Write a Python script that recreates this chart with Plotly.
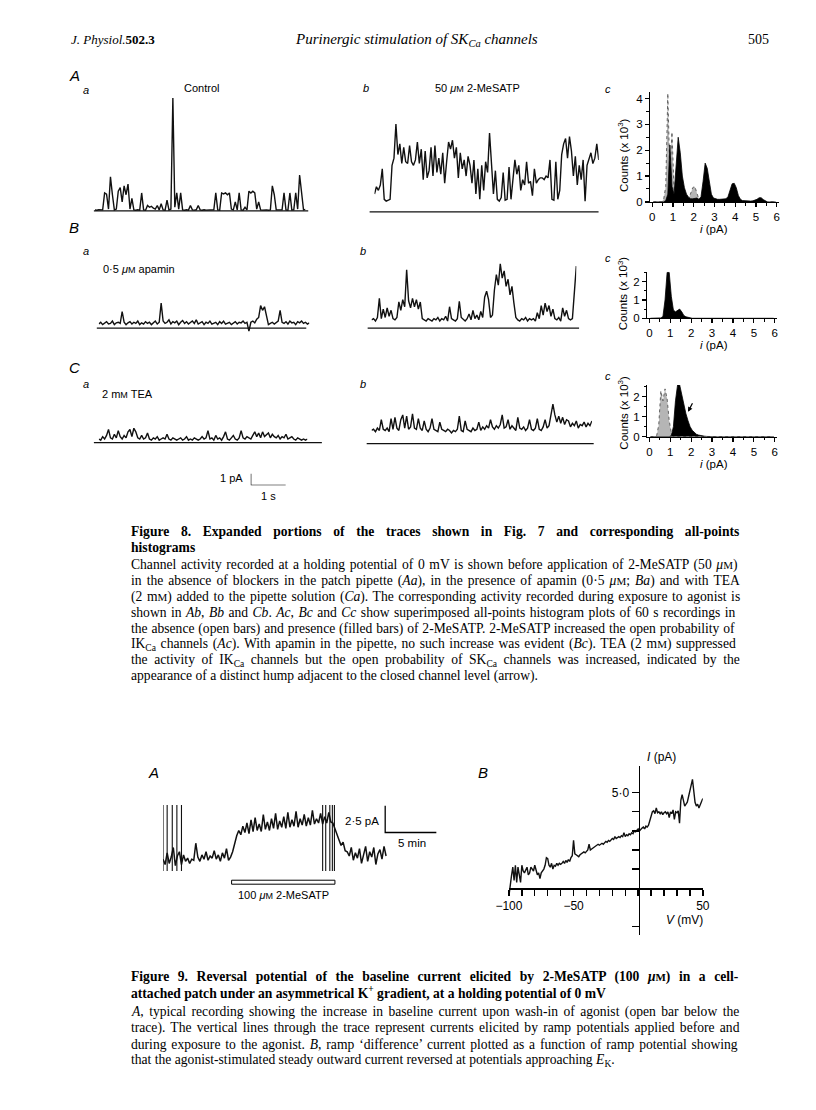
import re
import numpy as np
import plotly.graph_objects as go

W, H = 816, 1110
SANS = "Liberation Sans, Arial, Helvetica, sans-serif"
SERIF = "Liberation Serif, Times New Roman, serif"

# ======================= DATA =======================
# Fig. 8 single-channel traces: current (pA) above the zero-current line,
# sampled every DT_S seconds.
DT_S = 0.0556
aa_current = [0.08, 0.05, 0.09, 0.06, 0.08, 1.5, 1.4, 0.15, 2.85, 1.35,
              0.08, 0.15, 1.65, 1.95, 0.75, 2.1, 1.35, 2.25, 0.15, 1.05,
              0.08, 0.05, 0.09, 0.06, 1.5, 0.08, 0.05, 0.45, 0.3, 0.38,
              0.22, 0.15, 0.45, 0.08, 0.6, 0.08, 0.06, 0.9, 0.08, 0.15,
              9.45, 0.3, 1.5, 0.15, 1.5, 0.08, 0.05, 0.09, 0.06, 0.45,
              0.08, 0.06, 0.09, 0.45, 0.08, 0.05, 0.09, 0.06, 0.08, 0.05,
              0.08, 0.09, 1.5, 0.08, 0.06, 1.5, 1.42, 1.5, 1.35, 1.5,
              0.15, 0.08, 0.75, 0.08, 1.5, 0.08, 0.06, 0.3, 0.08, 1.65,
              1.5, 1.65, 1.5, 0.15, 0.75, 0.08, 0.06, 0.09, 0.08, 0.05,
              0.08, 2.1, 1.35, 0.08, 0.06, 0.09, 0.08, 1.5, 0.08, 0.06,
              1.5, 0.08, 0.09, 1.5, 0.15, 3.0, 1.5, 0.08, 0.12]
ab_current = [1.5, 2.1, 1.8, 2.25, 3.6, 1.05, 0.9, 0.98, 1.05, 3.9,
              4.5, 7.35, 4.8, 5.7, 4.05, 5.4, 4.2, 4.05, 5.55, 4.2,
              3.9, 4.35, 5.85, 4.05, 5.25, 2.7, 5.1, 2.85, 3.45, 5.4,
              3.0, 5.55, 3.3, 4.5, 3.15, 4.95, 2.4, 4.2, 5.85, 5.25,
              6.0, 4.5, 5.4, 2.85, 4.95, 3.6, 4.35, 3.0, 4.65, 3.9,
              2.4, 4.35, 1.5, 3.6, 1.05, 3.9, 1.8, 4.2, 3.3, 6.6,
              3.75, 1.5, 3.45, 1.05, 0.9, 1.2, 3.3, 0.98, 1.05, 3.75,
              1.05, 2.7, 4.35, 3.15, 3.9, 1.8, 2.7, 2.25, 4.2, 2.4,
              2.55, 1.35, 3.6, 2.4, 2.7, 2.85, 2.85, 2.7, 3.0, 2.85,
              4.35, 1.05, 0.98, 4.2, 1.05, 1.8, 4.8, 5.7, 6.15, 4.5,
              6.3, 5.1, 3.0, 4.65, 2.25, 3.9, 2.7, 4.35, 0.9, 3.9,
              4.35, 4.95, 4.05, 4.5, 5.7, 4.35]
ba_current = [0.35, 0.5, 0.3, 0.45, 0.55, 0.35, 0.4, 0.6, 0.3, 0.45,
              0.5, 0.4, 1.4, 0.5, 0.3, 0.45, 0.55, 0.35, 0.5, 0.4,
              0.6, 0.3, 0.45, 0.35, 0.55, 0.4, 0.5, 0.3, 0.45, 0.6,
              0.35, 0.5, 2.1, 0.6, 0.4, 0.5, 0.7, 0.35, 0.55, 0.45,
              0.6, 0.3, 0.5, 0.65, 0.4, 0.55, 0.35, 0.5, 0.6, 0.4,
              0.7, 0.35, 0.45, 0.55, 0.3, 0.5, 0.4, 0.6, 0.35, 0.45,
              0.5, 0.3, 0.55, 0.4, 0.6, 0.35, 0.45, 0.5, 0.3, 0.4,
              0.55, 0.35, 0.5, 0.45, 0.6, 0.4, 0.5, -0.25, 0.5, 0.6,
              0.45, 0.75, 0.9, 1.9, 1.5, 1.8, 1.0, 0.3, 0.4, 0.5,
              0.35, 0.45, 0.6, 1.5, 0.5, 0.4, 0.55, 0.35, 0.6, 0.45,
              0.5, 0.3, 0.55, 0.45, 0.6, 0.4, 0.5, 0.35, 0.45]
bb_current = [0.7, 0.8, 0.6, 0.9, 2.5, 0.8, 1.6, 0.9, 1.7, 1.0,
              1.5, 0.8, 0.7, 0.9, 2.2, 1.5, 2.4, 1.8, 4.9, 2.3,
              1.7, 2.5, 1.8, 2.4, 1.6, 2.2, 0.8, 0.7, 0.6, 0.8,
              0.7, 0.6, 0.8, 0.7, 0.9, 0.6, 0.8, 0.7, 1.0, 0.6,
              1.8, 0.8, 0.7, 0.6, 0.8, 2.25, 0.9, 0.7, 0.6, 0.8,
              1.2, 0.7, 1.5, 0.8, 1.1, 0.7, 1.4, 0.9, 2.6, 3.1,
              2.4, 0.9, 1.1, 3.2, 4.5, 3.6, 5.4, 4.2, 4.8, 3.5,
              4.1, 2.8, 3.5, 2.1, 0.9, 0.7, 0.6, 0.8, 0.7, 0.9,
              0.6, 0.8, 0.7, 0.8, 0.6, 1.3, 0.8, 1.9, 1.1, 2.1,
              1.4, 1.9, 1.0, 1.6, 0.8, 0.7, 0.9, 0.6, 1.7, 1.0,
              1.5, 0.8, 0.7, 0.8, 2.8, 5.2]
ca_current = [0.3, 0.2, 0.5, 0.3, 0.6, 1.1, 0.4, 0.3, 0.7, 0.4,
              1.0, 0.5, 0.3, 0.6, 0.4, 0.9, 1.1, 0.5, 1.2, 0.9,
              0.4, 0.3, 0.6, 0.3, 0.4, 0.8, 0.3, 0.2, 0.4, 0.3,
              0.5, 0.2, 0.3, 0.4, 0.3, 0.7, 0.3, 0.2, 0.4, 0.3,
              0.2, 0.3, 0.4, 0.2, 0.3, 0.5, 0.2, 0.3, 0.2, 0.4,
              0.3, 0.2, 0.3, 0.5, 0.3, 0.4, 1.0, 0.3, 0.4, 0.2,
              0.6, 0.3, 0.4, 0.2, 0.5, 0.9, 0.3, 0.2, 0.4, 0.6,
              0.3, 0.2, 0.4, 1.0, 0.4, 0.3, 0.5, 0.4, 0.3, 0.6,
              0.9, 0.5, 0.8, 0.4, 0.9, 0.5, 0.7, 0.8, 0.4, 0.7,
              0.5, 0.4, 0.6, 0.3, 0.5, 0.4, 0.7, 0.3, 0.4, 0.5,
              0.3, 0.2, 0.4, 0.3, 0.2, 0.3, 0.2, 0.3]
cb_current = [1.1, 1.2, 1.0, 1.3, 1.1, 2.0, 1.2, 1.1, 1.3, 1.0,
              2.1, 1.2, 2.2, 1.3, 1.1, 2.0, 2.4, 1.3, 2.3, 1.2,
              1.4, 2.5, 1.3, 1.2, 2.1, 1.3, 1.1, 1.9, 1.2, 1.0,
              1.3, 2.1, 1.2, 1.1, 1.0, 1.8, 1.2, 1.1, 1.0, 1.2,
              1.1, 0.9, 1.1, 1.0, 1.2, 2.3, 1.1, 1.0, 1.9, 1.2,
              1.1, 1.0, 1.3, 1.1, 1.2, 1.8, 1.1, 1.4, 1.2, 1.5,
              1.3, 2.0, 1.4, 1.2, 1.5, 1.3, 1.6, 2.4, 1.3, 1.4,
              2.0, 1.2, 1.5, 1.3, 1.1, 2.2, 1.3, 1.2, 1.4, 1.1,
              1.3, 2.0, 1.2, 1.1, 1.3, 2.1, 1.2, 1.1, 1.4, 2.0,
              1.3, 1.5, 2.6, 3.3, 2.4, 1.8, 2.3, 1.7, 2.2, 1.6,
              2.0, 1.9, 1.4, 1.7, 1.5, 1.9, 1.3, 1.6, 1.5, 1.8,
              1.4, 1.7, 1.5, 1.9]

# Fig. 8 all-points histograms: bin centres (pA) and counts (x 10^3)
hist_bins = [round(0.05 + 0.1 * k, 2) for k in range(60)]
ac_control = [0, 0, 0, 0, 0, 0.1, 0.6, 4.2, 1.0, 2.7,
              0.5, 0.1, 0.05, 0.03, 0.03, 0.04, 0.06, 0.1, 0.3, 0.55,
              0.6, 0.35, 0.1, 0.03, 0, 0, 0, 0, 0, 0,
              0, 0, 0, 0, 0, 0, 0, 0, 0, 0,
              0, 0, 0, 0, 0, 0, 0, 0, 0, 0,
              0, 0, 0, 0, 0, 0, 0, 0, 0, 0]
ac_agonist = [0, 0, 0, 0, 0, 0, 0.05, 0.3, 2.2, 0.6,
              0.3, 1.6, 2.5, 1.9, 1.0, 0.55, 0.3, 0.18, 0.12, 0.12,
              0.15, 0.15, 0.1, 0.2, 0.8, 1.5, 1.3, 0.7, 0.3, 0.15,
              0.12, 0.1, 0.1, 0.1, 0.1, 0.12, 0.2, 0.45, 0.7, 0.72,
              0.55, 0.25, 0.1, 0.05, 0.04, 0.03, 0.03, 0.03, 0.04, 0.06,
              0.1, 0.16, 0.16, 0.09, 0.03, 0, 0, 0, 0, 0]
bc_agonist = [0, 0, 0, 0, 0, 0.02, 0.1, 1.0, 2.5, 2.5,
              1.2, 0.45, 0.35, 0.45, 0.5, 0.35, 0.15, 0.08, 0.04, 0.02,
              0, 0, 0, 0, 0, 0, 0, 0, 0, 0,
              0, 0, 0, 0, 0, 0, 0, 0, 0, 0,
              0, 0, 0, 0, 0, 0, 0, 0, 0, 0,
              0, 0, 0, 0, 0, 0, 0, 0, 0, 0]
cc_control = [0, 0, 0, 0.05, 0.6, 2.3, 1.8, 2.4, 1.9, 0.8,
              0.2, 0.02, 0, 0, 0, 0, 0, 0, 0, 0,
              0, 0, 0, 0, 0, 0, 0, 0, 0, 0,
              0, 0, 0, 0, 0, 0, 0, 0, 0, 0,
              0, 0, 0, 0, 0, 0, 0, 0, 0, 0,
              0, 0, 0, 0, 0, 0, 0, 0, 0, 0]
cc_agonist = [0, 0, 0, 0, 0, 0, 0, 0, 0, 0,
              0.05, 0.5, 1.8, 2.6, 2.6, 2.1, 1.6, 1.15, 0.8, 0.5,
              0.32, 0.2, 0.12, 0.08, 0.05, 0.03, 0.02, 0.01, 0, 0,
              0, 0, 0, 0, 0, 0, 0, 0, 0, 0,
              0, 0, 0, 0, 0, 0, 0, 0, 0, 0,
              0, 0, 0, 0, 0, 0, 0, 0, 0, 0]
hist_xticks = [0, 1, 2, 3, 4, 5, 6]

# Fig. 9A: baseline current (pA) sampled every DT_MIN minutes
DT_MIN = 0.2
fig9_current = [0.2, -0.3, 0.8, -0.2, 0.4, 1.3, -0.4, 0.5, 0.9, -0.3,
                0.6, 0.0, 0.3, -0.2, 0.2, 0.1, 1.7, 0.4, 0.0, 0.6,
                0.2, 0.9, 0.1, 0.5, 0.3, 1.0, 0.2, 0.6, 0.0, 0.8,
                0.3, 1.2, 0.1, 0.4, 0.9, 1.8, 2.4, 2.9, 2.5, 3.3,
                2.7, 3.6, 2.6, 3.9, 2.8, 4.1, 2.9, 3.5, 2.8, 4.4,
                3.0, 3.7, 2.9, 4.0, 3.1, 4.5, 3.0, 3.8, 3.2, 4.2,
                3.1, 4.6, 3.2, 3.9, 3.3, 4.7, 3.2, 4.0, 3.4, 4.4,
                3.3, 4.1, 3.4, 4.8, 3.5, 4.0, 3.6, 4.5, 3.5, 4.2,
                3.6, 4.6, 3.7, 3.6, 3.0, 2.6, 2.0, 1.5, 1.8, 1.0,
                0.9, 0.5, 1.3, 0.1, 0.8, 0.3, 1.2, -0.2, 0.6, 1.4,
                0.0, 0.9, 0.4, 1.3, -0.3, 0.7, 1.1, 0.2, 1.4, 0.5]
ramp_times_min = [0.0, 0.4, 0.9, 1.35, 1.8, 15.6, 15.9, 16.3, 16.55, 16.75]
ramp_low_pA = -0.9
ramp_high_pA = 5.3
agonist_on_min, agonist_off_min = 6.7, 16.8

# Fig. 9B: ramp difference current (pA) vs potential (mV)
iv_voltage = list(range(-100, 51))
iv_current = [-0.4, 0.3, 0.66, 1.1, 0.4, 1.2, 0.3, 1.1, 0.6, 0.3,
              1.2, 0.9, 0.8, 1.0, 1.1, 0.7, 0.8, 1.1, 1.0, 0.9,
              1.2, 1.0, 0.7, 0.8, 0.5, 0.8, 0.9, 1.0, 1.2, 1.6,
              1.55, 1.2, 1.1, 1.3, 1.0, 1.2, 1.15, 1.3, 1.2, 1.3,
              1.25, 1.3, 1.4, 1.3, 1.45, 1.35, 1.5, 1.4, 1.6, 1.7,
              2.5, 1.8, 1.75, 1.7, 1.65, 1.75, 1.8, 1.85, 1.9, 1.85,
              1.95, 2.0, 2.3, 2.0, 2.05, 2.1, 2.15, 2.2, 2.25, 2.3,
              2.25, 2.3, 2.35, 2.3, 2.4, 2.45, 2.4, 2.5, 2.45, 2.55,
              2.6, 2.55, 2.7, 2.6, 2.65, 2.7, 2.65, 2.75, 2.7, 2.9,
              2.7, 2.8, 2.75, 2.85, 2.8, 2.9, 2.85, 3.0, 2.95, 3.05,
              3.1, 3.0, 3.1, 3.15, 3.2, 3.1, 3.25, 3.2, 3.3, 3.5,
              3.7, 4.0, 4.05, 3.9, 4.2, 3.95, 4.0, 3.9, 4.0, 3.85,
              3.95, 4.0, 3.9, 4.0, 3.7, 4.0, 3.9, 4.1, 3.6, 4.0,
              3.95, 4.05, 3.4, 4.6, 4.9, 4.6, 4.3, 4.4, 4.5, 4.8,
              5.2, 5.4, 5.7, 4.9, 4.5, 4.3, 4.4, 4.2, 4.4, 4.6, 4.7]
iv_xticks = [-100, -50, 50]
iv_xticktext = ["\u2212100", "\u221250", "50"]
iv_yticks = [-2, 1, 2, 3, 4, 5]
iv_yticktext = ["", "", "", "", "", "5\u00b70"]

# ======================= LAYOUT HELPERS =======================
fig = go.Figure()
axes = {}
shapes = []
annotations = []
_count = [0]


def fx(px):
    return px / W


def fy(py):
    return 1 - py / H


def new_axes(xpx, ypx, xr, yr):
    _count[0] += 1
    i = _count[0]
    s = '' if i == 1 else str(i)
    axes['xaxis' + s] = dict(domain=[fx(xpx[0]), fx(xpx[1])], range=xr, anchor='y' + s,
                             visible=False, fixedrange=True)
    axes['yaxis' + s] = dict(domain=[fy(ypx[1]), fy(ypx[0])], range=yr, anchor='x' + s,
                             visible=False, fixedrange=True)
    return 'x' + s, 'y' + s, 'xaxis' + s, 'yaxis' + s


def text(s, x, y, size=11, family=SANS, xanchor='center', yanchor='middle', angle=0):
    annotations.append(dict(text=s, x=fx(x), y=fy(y), xref='paper', yref='paper',
                            showarrow=False, textangle=angle,
                            font=dict(size=size, family=family, color='black'),
                            xanchor=xanchor, yanchor=yanchor))


def uM(size):
    return "<i>\u03bc</i><span style='font-size:%dpx'>M</span>" % round(size * 0.78)


def mM(size):
    return "m<span style='font-size:%dpx'>M</span>" % round(size * 0.78)


# approximate Times advance widths (1/1000 em) used to justify caption lines
_TR = dict(zip("abcdefghijklmnopqrstuvwxyz",
               [444, 500, 444, 500, 444, 333, 500, 500, 278, 278, 500, 278, 778,
                500, 500, 500, 500, 333, 389, 278, 500, 500, 722, 500, 500, 444]))
_TR.update(dict(zip("ABCDEFGHIJKLMNOPQRSTUVWXYZ",
                    [722, 667, 667, 722, 611, 556, 722, 722, 333, 389, 722, 611, 889,
                     722, 722, 556, 722, 667, 556, 611, 722, 722, 944, 722, 722, 611])))
_TB = dict(zip("abcdefghijklmnopqrstuvwxyz",
               [500, 556, 444, 556, 444, 333, 500, 556, 278, 333, 556, 278, 833,
                556, 500, 556, 556, 444, 389, 333, 556, 500, 722, 500, 500, 444]))
_TB.update(dict(zip("ABCDEFGHIJKLMNOPQRSTUVWXYZ",
                    [722, 667, 722, 722, 667, 611, 778, 778, 389, 500, 778, 667, 944,
                     722, 778, 611, 778, 722, 556, 667, 722, 722, 1000, 722, 722, 667])))
_PUNCT = {' ': 250, '.': 250, ',': 250, ';': 278, ':': 278, '-': 333, '(': 333, ')': 333,
          '\u2018': 333, '\u2019': 333, '\u00b7': 250, '\u03bc': 500, '+': 564, "'": 333}


def est_width(s, size, bold):
    table = _TB if bold else _TR
    w, scale = 0.0, 1.0
    for tok in re.split(r'(<[^>]+>)', s):
        if tok.startswith('<'):
            t = tok.lower()
            if t in ('<sub>', '<sup>'):
                scale = 0.7
            elif t in ('</sub>', '</sup>', '</span>'):
                scale = 1.0
            elif t.startswith('<span'):
                m = re.search(r'font-size:(\d+)px', t)
                scale = int(m.group(1)) / size if m else 1.0
            continue
        for ch in tok:
            w += (table.get(ch) or _PUNCT.get(ch) or 500) * scale
    return w / 1000.0 * size


def justified(s, size, bold, width):
    plain_spaces = re.sub(r'<[^>]+>', '', s).count(' ')
    ws = (width - est_width(s, size, bold)) / max(plain_spaces, 1)
    body = "<b>%s</b>" % s if bold else s
    return "<span style='word-spacing:%.2fpx'>%s</span>" % (ws, body)


# ---------------- Fig. 8 traces ----------------
PX_PER_S = 36.0
PX_PER_PA = 12.0


def trace_panel(vals, x0px, zero_px, top_px, bot_px, base_l_px, base_r_px):
    t = np.arange(len(vals)) * DT_S
    x1px = x0px + t[-1] * PX_PER_S
    xr, yr, xn, yn = new_axes((x0px, x1px), (top_px, bot_px), [0, t[-1]],
                              [-(bot_px - zero_px) / PX_PER_PA, (zero_px - top_px) / PX_PER_PA])
    fig.add_trace(go.Scatter(x=t, y=vals, xaxis=xr, yaxis=yr, mode='lines',
                             line=dict(color='#111', width=1.4), hoverinfo='skip'))
    span = x1px - x0px
    shapes.append(dict(type='line', xref=xr + ' domain', yref=yr,
                       x0=(base_l_px - x0px) / span, x1=(base_r_px - x0px) / span,
                       y0=0, y1=0, line=dict(color='#111', width=1.2)))


trace_panel(aa_current, 83, 212, 88, 220, 82, 302)
trace_panel(ab_current, 370, 213, 88, 220, 365, 600)
trace_panel(ba_current, 87, 330, 250, 338, 85, 300)
trace_panel(bb_current, 367, 330, 250, 338, 363, 580)
trace_panel(ca_current, 87, 445, 395, 455, 82, 316)
trace_panel(cb_current, 367, 446, 395, 455, 362, 595)

# scale bar for Fig. 8 (1 pA, 1 s)
SB_PA, SB_S = 1.0, 1.0
sbx, sby, _, _ = new_axes((243, 243 + SB_S * PX_PER_S), (488 - SB_PA * PX_PER_PA, 488),
                          [0, SB_S], [0, SB_PA])
fig.add_trace(go.Scatter(x=[0, 0, SB_S], y=[SB_PA, 0, 0], xaxis=sbx, yaxis=sby, mode='lines',
                         line=dict(color='black', width=1.2), hoverinfo='skip'))
text("1 pA", 237, 481, size=11, xanchor='right')
text("1 s", 261, 499, size=11)


# ---------------- Fig. 8 histograms ----------------
def hist_panel(ctrl, agon, xpx, ypx, ymax, yticks, ytitle_y, xtitle_y):
    xr, yr, xn, yn = new_axes(xpx, ypx, [-0.1, 6.1], [0, ymax])
    tickfont = dict(family=SANS, size=11.5, color='black')
    axes[xn].update(visible=True, showline=True, linecolor='black', linewidth=1.2,
                    ticks='outside', ticklen=4, tickwidth=1.2, tickcolor='black',
                    tickmode='array', tickvals=hist_xticks, tickfont=tickfont,
                    showgrid=False, zeroline=False,
                    minor=dict(tickmode='array', tickvals=[0.5, 1.5, 2.5, 3.5, 4.5, 5.5],
                               ticks='outside', ticklen=2.5, tickwidth=1, tickcolor='black'))
    axes[yn].update(visible=True, showline=True, linecolor='black', linewidth=1.2,
                    ticks='outside', ticklen=4, tickwidth=1.2, tickcolor='black',
                    tickmode='array', tickvals=yticks, tickfont=tickfont,
                    showgrid=False, zeroline=False,
                    minor=dict(tickmode='array', tickvals=[v + 0.5 for v in yticks if v + 0.5 < ymax],
                               ticks='outside', ticklen=2.5, tickwidth=1, tickcolor='black'))
    if ctrl is not None:
        fig.add_trace(go.Scatter(x=hist_bins, y=ctrl, xaxis=xr, yaxis=yr, mode='lines',
                                 fill='tozeroy', fillcolor='rgba(120,120,120,0.55)',
                                 line=dict(color='#555', width=0.9, dash='dot'), hoverinfo='skip'))
    fig.add_trace(go.Scatter(x=hist_bins, y=agon, xaxis=xr, yaxis=yr, mode='lines',
                             fill='tozeroy', fillcolor='black',
                             line=dict(color='black', width=0.8), hoverinfo='skip'))
    text("Counts (x 10<sup>3</sup>)", 625, ytitle_y, size=11.5, angle=-90)
    text("<i>i</i> (pA)", 719, xtitle_y, size=11.5)
    return xr, yr


hist_panel(ac_control, ac_agonist, (653, 785), (92, 203), 4.27, [0, 1, 2, 3, 4], 156, 230)
hist_panel(None, bc_agonist, (650, 783), (273, 320), 2.55, [0, 1, 2], 295, 347)
cxr, cyr = hist_panel(cc_control, cc_agonist, (650, 783), (387, 439), 2.6, [0, 1, 2], 415, 467)
annotations.append(dict(x=1.85, y=1.25, ax=2.1, ay=1.75, xref=cxr, yref=cyr, axref=cxr, ayref=cyr,
                        showarrow=True, arrowhead=2, arrowsize=0.8, arrowwidth=1.2,
                        arrowcolor='black', text=''))

# ---------------- Fig. 8 labels ----------------
text("<i>A</i>", 62, 76, size=15)
text("<i>a</i>", 74, 90, size=11)
text("Control", 192, 88, size=11)
text("<i>b</i>", 361, 88, size=11)
text("50 " + uM(11) + " 2-MeSATP", 476, 88, size=11)
text("<i>c</i>", 610, 89, size=11)
text("<i>B</i>", 62, 229, size=15)
text("<i>a</i>", 74, 252, size=11)
text("0\u00b75 " + uM(11) + " apamin", 89, 270, size=11, xanchor='left')
text("<i>b</i>", 358, 252, size=11)
text("<i>c</i>", 610, 259, size=11)
text("<i>C</i>", 62, 369, size=15)
text("<i>a</i>", 74, 386, size=11)
text("2 " + mM(11) + " TEA", 88, 396, size=11, xanchor='left')
text("<i>b</i>", 358, 386, size=11)
text("<i>c</i>", 610, 378, size=11)

# ---------------- Header ----------------
text("<i>J. Physiol.</i><b>502.3</b>", 56, 40, size=13, family=SERIF, xanchor='left')
text("<i>Purinergic stimulation of SK<sub>Ca</sub> channels</i>", 413, 40, size=15, family=SERIF)
text("505", 777, 40, size=14, family=SERIF, xanchor='right')

# ---------------- Captions ----------------
CAP = 13.6
CAP_L, CAP_W = 118, 609
cap8_title = ["Figure 8. Expanded portions of the traces shown in Fig. 7 and corresponding all-points",
              "histograms"]
cap8_body = [
    "Channel activity recorded at a holding potential of 0 mV is shown before application of 2-MeSATP (50 " + uM(CAP) + ")",
    "in the absence of blockers in the patch pipette (<i>Aa</i>), in the presence of apamin (0\u00b75 " + uM(CAP) + "; <i>Ba</i>) and with TEA",
    "(2 " + mM(CAP) + ") added to the pipette solution (<i>Ca</i>). The corresponding activity recorded during exposure to agonist is",
    "shown in <i>Ab</i>, <i>Bb</i> and <i>Cb</i>. <i>Ac</i>, <i>Bc</i> and <i>Cc</i> show superimposed all-points histogram plots of 60 s recordings in",
    "the absence (open bars) and presence (filled bars) of 2-MeSATP. 2-MeSATP increased the open probability of",
    "IK<sub>Ca</sub> channels (<i>Ac</i>). With apamin in the pipette, no such increase was evident (<i>Bc</i>). TEA (2 " + mM(CAP) + ") suppressed",
    "the activity of IK<sub>Ca</sub> channels but the open probability of SK<sub>Ca</sub> channels was increased, indicated by the",
    "appearance of a distinct hump adjacent to the closed channel level (arrow).",
]
text(justified(cap8_title[0], CAP, True, CAP_W), CAP_L, 534, size=CAP, family=SERIF, xanchor='left')
text("<b>" + cap8_title[1] + "</b>", CAP_L, 550, size=CAP, family=SERIF, xanchor='left')
for k, s in enumerate(cap8_body):
    line = justified(s, CAP, False, CAP_W) if k < len(cap8_body) - 1 else s
    text(line, CAP_L, 568 + 16 * k, size=CAP, family=SERIF, xanchor='left')

cap9_title = ["Figure 9. Reversal potential of the baseline current elicited by 2-MeSATP (100 " + uM(CAP) + ") in a cell-",
              "attached patch under an asymmetrical K<sup>+</sup> gradient, at a holding potential of 0 mV"]
cap9_body = [
    "<i>A</i>, typical recording showing the increase in baseline current upon wash-in of agonist (open bar below the",
    "trace). The vertical lines through the trace represent currents elicited by ramp potentials applied before and",
    "during exposure to the agonist. <i>B</i>, ramp \u2018difference\u2019 current plotted as a function of ramp potential showing",
    "that the agonist-stimulated steady outward current reversed at potentials approaching <i>E</i><sub>K</sub>.",
]
text(justified(cap9_title[0], CAP, True, CAP_W), CAP_L, 982, size=CAP, family=SERIF, xanchor='left')
text("<b>" + cap9_title[1] + "</b>", CAP_L, 998, size=CAP, family=SERIF, xanchor='left')
for k, s in enumerate(cap9_body):
    line = justified(s, CAP, False, CAP_W) if k < len(cap9_body) - 1 else s
    text(line, CAP_L, 1018 + 16 * k, size=CAP, family=SERIF, xanchor='left')

# ---------------- Fig. 9A ----------------
PX_PER_MIN = 10.5
PX_PER_PA9 = 10.7
A9_LEFT, A9_ZERO, A9_TOP, A9_BOT, A9_RIGHT = 153, 866, 790, 895, 440
ax9, ay9, _, _ = new_axes((A9_LEFT, A9_RIGHT), (A9_TOP, A9_BOT),
                          [0, (A9_RIGHT - A9_LEFT) / PX_PER_MIN],
                          [-(A9_BOT - A9_ZERO) / PX_PER_PA9, (A9_ZERO - A9_TOP) / PX_PER_PA9])
t9 = np.arange(len(fig9_current)) * DT_MIN
fig.add_trace(go.Scatter(x=t9, y=fig9_current, xaxis=ax9, yaxis=ay9, mode='lines',
                         line=dict(color='#111', width=1.5), hoverinfo='skip'))
rx, ry = [], []
for tr in ramp_times_min:
    rx += [tr, tr, None]
    ry += [ramp_low_pA, ramp_high_pA, None]
fig.add_trace(go.Scatter(x=rx, y=ry, xaxis=ax9, yaxis=ay9, mode='lines',
                         line=dict(color='#111', width=1.1), hoverinfo='skip'))
# agonist application bar
shapes.append(dict(type='rect', xref=ax9, yref='paper', x0=agonist_on_min, x1=agonist_off_min,
                   y0=fy(889), y1=fy(885), line=dict(color='black', width=1), fillcolor='white'))
text("100 " + uM(11) + " 2-MeSATP", 277, 900, size=11)
# scale bar (2.5 pA, 5 min)
SB9_PA, SB9_MIN = 2.5, 5.0
sb_t0 = (381 - A9_LEFT) / PX_PER_MIN
sb_y0 = (A9_ZERO - 837) / PX_PER_PA9
fig.add_trace(go.Scatter(x=[sb_t0, sb_t0, sb_t0 + SB9_MIN], y=[sb_y0 + SB9_PA, sb_y0, sb_y0],
                         xaxis=ax9, yaxis=ay9, mode='lines', line=dict(color='black', width=1.3),
                         hoverinfo='skip'))
text("2\u00b75 pA", 377, 825, size=11.5, xanchor='right')
text("5 min", 408, 848, size=11.5)
text("<i>A</i>", 143, 777, size=15)

# ---------------- Fig. 9B ----------------
bx, by, bxn, byn = new_axes((508, 707), (770, 940), [-100, 50],
                            [-(940 - 893) / 19.2, (893 - 770) / 19.2])
axes[bxn].update(visible=True, anchor='free', position=fy(893), showline=True,
                 linecolor='black', linewidth=1.6, ticks='outside', ticklen=6, tickwidth=1.4,
                 tickcolor='black', tickmode='array', tickvals=iv_xticks, ticktext=iv_xticktext,
                 tickfont=dict(family=SANS, size=12, color='black'), showgrid=False, zeroline=False,
                 minor=dict(dtick=10, tick0=0, ticks='outside', ticklen=6, tickwidth=1.4,
                            tickcolor='black', showgrid=False))
axes[byn].update(visible=True, anchor='free', position=fx(641), side='left', showline=True,
                 linecolor='black', linewidth=1.6, ticks='outside', ticklen=7, tickwidth=1.4,
                 tickcolor='black', tickmode='array', tickvals=iv_yticks, ticktext=iv_yticktext,
                 tickfont=dict(family=SANS, size=12, color='black'), showgrid=False, zeroline=False)
fig.add_trace(go.Scatter(x=iv_voltage, y=iv_current, xaxis=bx, yaxis=by, mode='lines',
                         line=dict(color='#111', width=1.4), hoverinfo='skip'))
text("<i>I</i> (pA)", 648, 761, size=12, xanchor='left')
text("<i>V</i> (mV)", 688, 925, size=12)
text("<i>B</i>", 481, 777, size=15)

fig.update_layout(width=W, height=H, margin=dict(l=0, r=0, t=0, b=0),
                  paper_bgcolor='white', plot_bgcolor='rgba(0,0,0,0)', showlegend=False,
                  shapes=shapes, annotations=annotations, **axes)
fig.write_html("out.html", config={'displayModeBar': False, 'staticPlot': True},
               post_script="document.body.style.margin='0px';document.body.style.overflow='hidden';")
